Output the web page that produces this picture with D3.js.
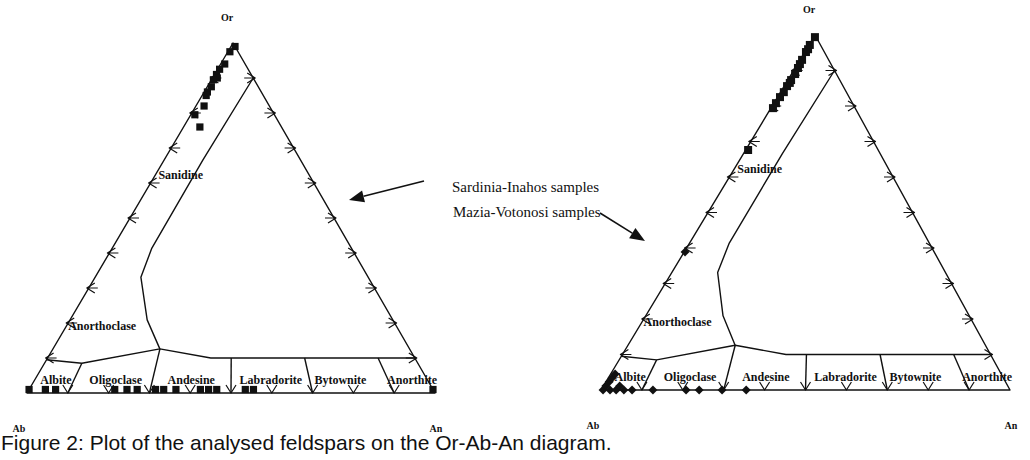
<!DOCTYPE html>
<html>
<head>
<meta charset="utf-8">
<script src="https://cdn.jsdelivr.net/npm/d3@7"></script>
<style>
  body { margin: 0; background: #fff; }
  text { fill: #111; }
</style>
</head>
<body>
<svg id="fig" width="1030" height="460"></svg>
<script>
// ternary values are [Or %, An %]; Ab = 100 - Or - An
const plagNames = ["Albite", "Oligoclase", "Andesine", "Labradorite", "Bytownite", "Anorthite"];
const plagLabelAt = [6, 21, 40, 60, 77.5, 95.5];      // An/(An+Ab) % at label centre
const plagBreaks = [10, 30, 50, 70, 90];              // An/(An+Ab) % of the field borders
const plagBreakTop = [8.5, 12.6, 10, 10, 10];         // Or % where each border stops
const gapCurve = [[90, 10], [66.6, 9.5], [41.4, 9.7], [33.1, 11.2], [20.9, 18.9], [12.6, 26.2]];
const plagTop = [[9.5, 0], [8.5, 9.15], [12.6, 26.2], [10, 40], [10, 90]];
const tickSteps = [10, 20, 30, 40, 50, 60, 70, 80, 90];

const sardiniaSquares = [
  [99, 1], [97.5, 0.5], [94, 1], [92.5, 0.5], [91, 0.5], [90, 1.2], [89.5, 0.5], [87.5, 1],
  [86, 0.8], [85, 1], [82, 2], [79.5, 1], [76, 4],
  [1, 0], [1, 4], [1, 6.5], [1, 21], [1, 24], [1, 26.5], [1, 31], [1, 33], [1, 36],
  [1, 42], [1, 44], [1, 46], [1, 53], [1, 55], [1, 99]
];
const maziaSquares = [
  [99.4, 0.3], [97.2, 0.2], [96, 0.4], [95.2, 0.3], [93, 0.5], [91.8, 0.6], [90.7, 0.7],
  [89, 0.9], [87.3, 0.8], [86.5, 0.9], [85.6, 0.7], [83.9, 0.8], [82.5, 0.6], [80.8, 0.5],
  [79.4, 0.5], [67.6, 0.6]
];
const maziaDiamonds = [
  [0, 0.5], [1.1, 0.6], [2.3, 0.8], [3.4, 0.9], [4.5, 1.1], [0, 2.2], [0, 3.7], [1.1, 4],
  [0, 5.6], [0, 7.6], [0, 12.7], [0, 20.8], [0, 24], [0, 29.6], [0, 35.5], [38.9, 0.2]
];

const ink = "#111";
const svg = d3.select("#fig");
svg.append("rect").attr("width", 1030).attr("height", 460).attr("fill", "#fff");

const panels = [
  { ab: [27, 393], an: [435, 393], or: [233, 43],
    series: [{ data: sardiniaSquares, shape: "square", size: 52 }] },
  { ab: [601, 390], an: [1010, 390], or: [815, 35],
    series: [{ data: maziaSquares, shape: "square", size: 64 },
             { data: maziaDiamonds, shape: "diamond", size: 40 }] }
];

panels.forEach(drawPanel);

function drawPanel(p) {
  const g = svg.append("g");
  const xAn = d3.scaleLinear().domain([0, 100]).range([0, p.an[0] - p.ab[0]]);
  const xOr = d3.scaleLinear().domain([0, 100]).range([0, p.or[0] - p.ab[0]]);
  const yOr = d3.scaleLinear().domain([0, 100]).range([p.ab[1], p.or[1]]);
  const pt = (or, an) => [p.ab[0] + xAn(an) + xOr(or), yOr(or)];
  const line = d3.line();

  const lines = g.append("g").attr("fill", "none").attr("stroke", ink)
    .attr("stroke-width", 1.4).attr("stroke-linejoin", "round");

  // frame
  lines.append("path").attr("d", line([pt(0, 0), pt(0, 100), pt(100, 0)]) + "Z");
  // alkali feldspar / plagioclase limits
  lines.append("path").attr("d", line(gapCurve.map(d => pt(d[0], d[1]))));
  lines.append("path").attr("d", line(plagTop.map(d => pt(d[0], d[1]))));
  plagBreaks.forEach((r, i) => {
    const top = plagBreakTop[i];
    lines.append("path").attr("d", line([pt(0, r), pt(top, r * (100 - top) / 100)]));
  });

  // edge ticks (small arrows)
  const ticks = lines.append("g").attr("stroke-width", 1.2);
  tickSteps.forEach(k => {
    let [x, y] = pt(0, k);
    ticks.append("path").attr("d", `M${x - 5},${y - 8}L${x},${y}L${x + 5},${y - 8}`);
    [x, y] = pt(k, 0);
    x -= 2;
    ticks.append("path").attr("d", `M${x + 8},${y - 5}L${x},${y}L${x + 8},${y + 5}M${x},${y}L${x + 11},${y}`);
    [x, y] = pt(k, 100 - k);
    x += 2;
    ticks.append("path").attr("d", `M${x - 8},${y - 5}L${x},${y}L${x - 8},${y + 5}M${x},${y}L${x - 11},${y}`);
  });

  // field names
  const lab = g.append("g").attr("font-family", "'Liberation Serif', serif")
    .attr("font-weight", "bold").attr("font-size", 12);
  plagNames.forEach((n, i) => {
    const r = plagLabelAt[i];
    const [x, y] = pt(2.5, r * 0.975);
    lab.append("text").attr("x", x).attr("y", y).attr("text-anchor", "middle").text(n);
  });
  let [sx, sy] = pt(61.2, 1.3);
  lab.append("text").attr("x", sx).attr("y", sy).text("Sanidine");
  [sx, sy] = pt(18, 1);
  lab.append("text").attr("x", sx).attr("y", sy).text("Anorthoclase");

  // corner names
  const corner = g.append("g").attr("font-family", "'Liberation Serif', serif")
    .attr("font-weight", "bold").attr("font-size", 10).attr("text-anchor", "middle");
  corner.append("text").attr("x", p.or[0] - 6).attr("y", p.or[1] - 22).text("Or");
  corner.append("text").attr("x", p.ab[0] - 8).attr("y", p.ab[1] + 39).text("Ab");
  corner.append("text").attr("x", p.an[0] + 1).attr("y", p.an[1] + 39).text("An");

  // samples
  p.series.forEach(s => {
    const sym = d3.symbol(d3.symbolSquare, s.size);
    g.append("g").attr("fill", ink).selectAll("path").data(s.data).join("path")
      .attr("d", sym)
      .attr("transform", d => {
        const [x, y] = pt(d[0], d[1]);
        return `translate(${x},${y})` + (s.shape === "diamond" ? " rotate(45)" : "");
      });
  });
}

// annotation
const note = svg.append("g").attr("font-family", "'Liberation Serif', serif").attr("font-size", 15);
note.append("text").attr("x", 452).attr("y", 192).text("Sardinia-Inahos samples");
note.append("text").attr("x", 453).attr("y", 217).text("Mazia-Votonosi samples");

function arrow(x1, y1, x2, y2) {
  const a = Math.atan2(y2 - y1, x2 - x1), L = 15, W = 6;
  const bx = x2 - L * Math.cos(a), by = y2 - L * Math.sin(a);
  svg.append("line").attr("x1", x1).attr("y1", y1).attr("x2", bx).attr("y2", by)
    .attr("stroke", ink).attr("stroke-width", 1.6);
  svg.append("path").attr("fill", ink).attr("d",
    `M${x2},${y2}L${bx - W * Math.sin(a)},${by + W * Math.cos(a)}L${bx + W * Math.sin(a)},${by - W * Math.cos(a)}Z`);
}
arrow(424, 181, 349, 200);
arrow(600, 213, 645, 241);

// caption
svg.append("text").attr("x", 1).attr("y", 450)
  .attr("font-family", "'Liberation Sans', Arial, sans-serif").attr("font-size", 21)
  .attr("fill", "#222")
  .text("Figure 2: Plot of the analysed feldspars on the Or-Ab-An diagram.");
</script>
</body>
</html>
